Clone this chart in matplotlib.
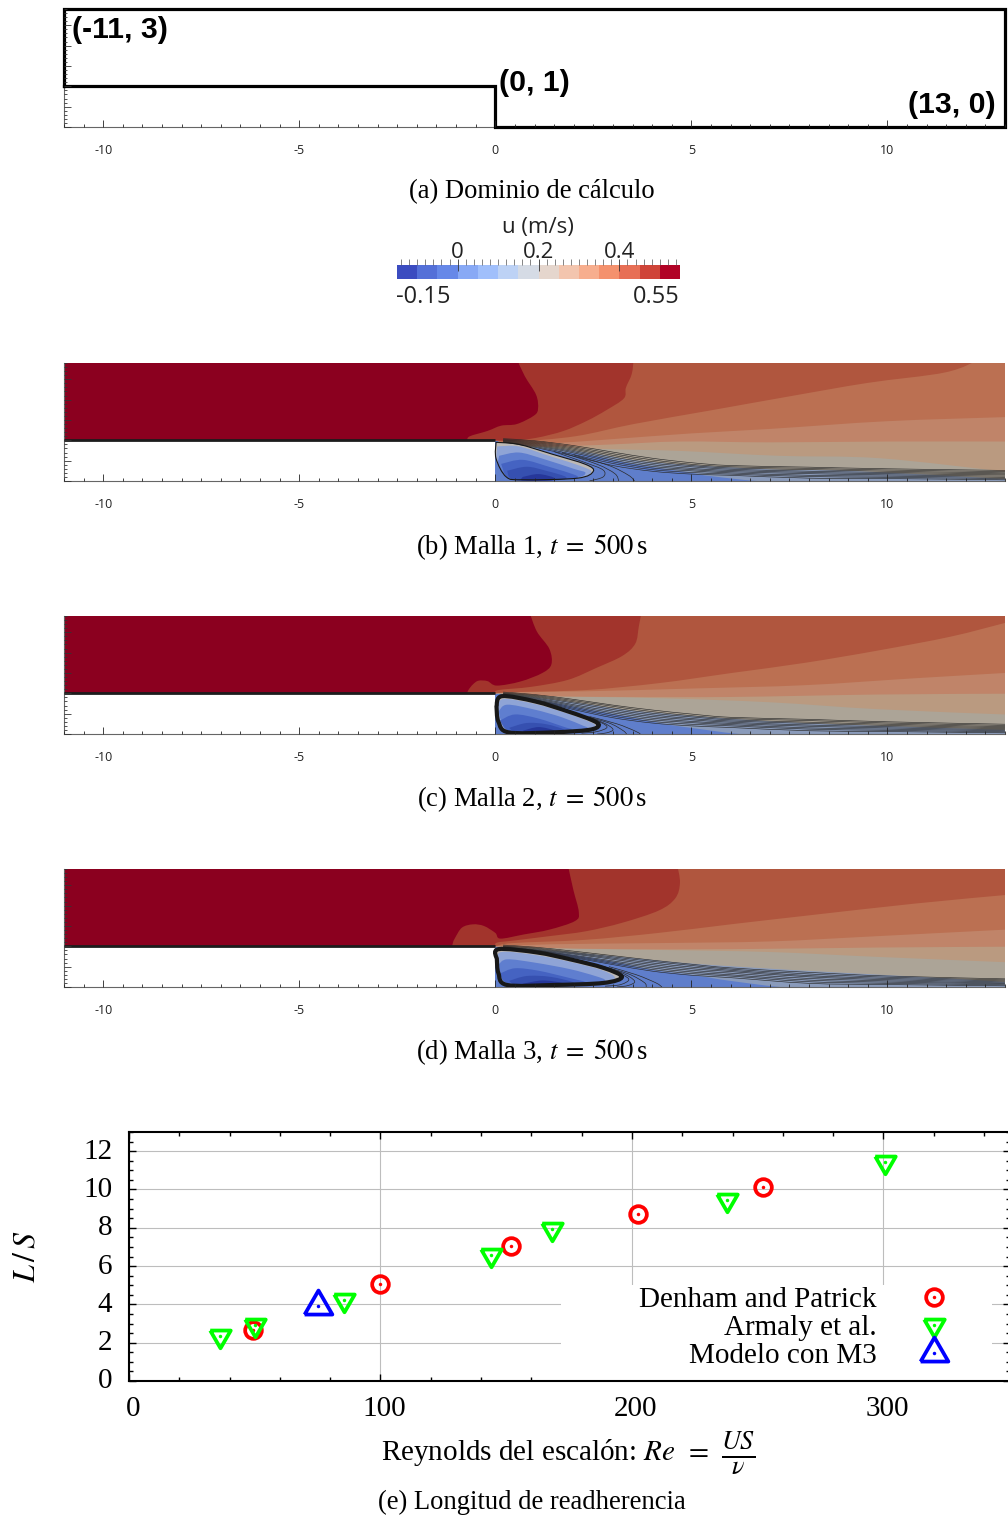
import matplotlib
matplotlib.use('Agg')
import matplotlib.pyplot as plt
from matplotlib.colors import ListedColormap
from matplotlib.legend_handler import HandlerTuple
from matplotlib.patches import PathPatch, Rectangle
from matplotlib.path import Path
from matplotlib.transforms import ScaledTranslation

plt.rcParams['mathtext.fontset'] = 'stix'
plt.rcParams['font.family'] = 'Liberation Serif'

W, H = 1008, 1517
Y_TOP = 2.9

# colour bar
cb_colors = ['#3b4cc0', '#5470d8', '#6688e8', '#88a9f5', '#a0bffb', '#bdd2f5', '#d5dbe5',
             '#e5d6cd', '#f3c5ae', '#f7ae8e', '#f4916d', '#e76f55', '#cf4438', '#b10326']
cb_edges = [-0.15, -0.1, -0.05, 0.0, 0.05, 0.1, 0.15, 0.2, 0.25, 0.3, 0.35, 0.4, 0.45, 0.5, 0.55]
cb_major = [0, 0.2, 0.4]
cb_major_labels = ['0', '0.2', '0.4']

# contour band colours, one per curve below, then the colour of the lowest zone
band_colors = ['#8b001f', '#a2342c', '#b0563e', '#bb7052', '#c08469', '#ba9a80', '#aca497', '#8a9bbb']
base_color = '#5f7ecb'
bubble_colors = ['#bdb9b5', '#8fa4d6', '#5f7ecf', '#4563c2', '#3650b0', '#26379a']

# contour line stations along x
line_x = [0.2, 1, 2, 3, 4, 5, 6, 8, 10, 13]

# Malla 1
b_curves = [
    ([0.55, 0.75, 1.04, 1.09, 0.99, 0.55, 0.15, -0.2, -0.65, -0.72], [3, 2.58, 2.12, 1.78, 1.61, 1.4, 1.36, 1.23, 1.1, 1]),
    ([3.53, 3.48, 3.33, 3.28, 2.83, 2.34, 1.74, 1.04, 0.45, 0], [3, 2.63, 2.29, 2.03, 1.74, 1.48, 1.23, 1.06, 1.0, 1]),
    ([12.38, 11.48, 9.49, 7.5, 5.52, 3.53, 2.04, 0.55, 0], [3, 2.67, 2.41, 2.08, 1.74, 1.4, 1.1, 0.97, 1]),
    ([13, 10, 7, 5, 3, 1.5, 0.5, 0], [1.57, 1.47, 1.28, 1.17, 1.03, 0.93, 0.9, 1]),
    ([13, 10, 7, 4.7, 3, 1.5, 0.5, 0], [0.97, 0.97, 0.95, 0.97, 0.9, 0.85, 0.88, 1]),
    ([13, 9.8, 7.2, 4.7, 3, 1.5, 0.5, 0], [0.23, 0.56, 0.62, 0.74, 0.78, 0.83, 0.88, 1]),
    ([13, 9.1, 7.2, 4.7, 3.5, 2.5, 1.5, 0.5, 0], [0.05, 0.25, 0.28, 0.41, 0.52, 0.68, 0.8, 0.88, 1]),
    ([13, 9.2, 7, 5.5, 5, 3.5, 2.6, 1.5, 0.5, 0], [-0.05, -0.05, -0.02, 0.12, 0.2, 0.42, 0.6, 0.75, 0.88, 1]),
]
b_lines = [
    [1.04, 0.99, 0.87, 0.71, 0.56, 0.45, 0.38, 0.34, 0.30, 0.26],
    [1.02, 0.97, 0.84, 0.67, 0.52, 0.41, 0.35, 0.31, 0.27, 0.23],
    [1.01, 0.95, 0.81, 0.63, 0.48, 0.38, 0.32, 0.28, 0.24, 0.20],
    [1.00, 0.93, 0.78, 0.59, 0.44, 0.35, 0.29, 0.24, 0.21, 0.175],
    [0.99, 0.91, 0.75, 0.55, 0.40, 0.31, 0.26, 0.21, 0.18, 0.15],
    [0.98, 0.89, 0.72, 0.51, 0.36, 0.28, 0.23, 0.18, 0.15, 0.12],
    [0.97, 0.87, 0.69, 0.47, 0.32, 0.25, 0.20, 0.14, 0.12, 0.09],
    [0.96, 0.85, 0.65, 0.43, 0.28, 0.21, 0.17, 0.11, 0.09, 0.06],
    [0.95, 0.83, 0.61, 0.38, 0.24, 0.17, 0.14, 0.07, 0.06, 0.03],
]
b_loops = [
    ([1.5, 2.3, 2.75, 2.75, 2.4], [0.72, 0.45, 0.27, 0.1, 0]),
    ([1.7, 2.6, 3.05, 3.15], [0.7, 0.41, 0.18, 0]),
    ([2.0, 2.9, 3.4, 3.55], [0.64, 0.38, 0.14, 0]),
]
b_bubble = [
    ([0.02, 0.6, 1.45, 2.3, 2.5, 2.1, 0.7, 0.28, 0.02], [0.95, 0.9, 0.66, 0.41, 0.24, 0.07, 0.03, 0.1, 0.55]),
    ([0.05, 0.6, 1.4, 2.2, 2.45, 2.1, 0.7, 0.28, 0.04], [0.85, 0.85, 0.61, 0.36, 0.22, 0.07, 0.03, 0.1, 0.5]),
    ([0.1, 0.6, 1.2, 2.0, 2.3, 2.0, 0.7, 0.3, 0.08], [0.62, 0.7, 0.55, 0.3, 0.2, 0.07, 0.03, 0.1, 0.4]),
    ([0.15, 0.7, 1.4, 2.0, 2.1, 1.9, 0.7, 0.3], [0.42, 0.52, 0.34, 0.16, 0.09, 0.05, 0.02, 0.1]),
    ([0.3, 0.8, 1.3, 1.8, 1.6, 0.5], [0.25, 0.35, 0.25, 0.1, 0.02, 0.02]),
    ([0.7, 1.1, 1.5, 1.4, 0.7], [0.1, 0.17, 0.08, 0.01, 0.01]),
]

# Malla 2
c_curves = [
    ([0.87, 1.06, 1.38, 1.43, 1.2, 0.64, 0.04, -0.2, -0.43, -0.57, -0.68, -0.72], [3, 2.52, 2.09, 1.71, 1.5, 1.29, 1.19, 1.3, 1.31, 1.22, 1.09, 1]),
    ([3.73, 3.66, 3.57, 3.24, 2.59, 1.85, 0.92, 0.08, 0], [3, 2.64, 2.22, 1.92, 1.63, 1.33, 1.16, 1.08, 1]),
    ([13, 11.6, 9.75, 7.9, 6.03, 4.17, 2.31, 0.45, 0], [2.73, 2.39, 2.05, 1.75, 1.5, 1.25, 1.08, 1.03, 1]),
    ([13, 10.7, 7.9, 5.1, 2.3, 0.45, 0], [1.5, 1.37, 1.2, 1.12, 1.05, 1.03, 1]),
    ([13, 9.75, 6, 3.2, 1.4, 0.45, 0], [0.99, 0.97, 0.91, 0.91, 0.93, 0.99, 1]),
    ([13, 9.75, 7, 4.2, 1.4, 0.45, 0], [0.48, 0.61, 0.78, 0.88, 0.93, 0.99, 1]),
    ([13, 7.9, 5.1, 3.2, 2.3, 1, 0], [0.1, 0.27, 0.44, 0.61, 0.74, 0.9, 1]),
    ([13, 8.5, 6.5, 5, 4.3, 3.4, 2.5, 1, 0], [-0.05, -0.05, -0.02, 0.15, 0.25, 0.42, 0.58, 0.85, 1]),
]
c_lines = [
    [1.03, 0.97, 0.85, 0.71, 0.59, 0.49, 0.41, 0.36, 0.30, 0.24],
    [1.01, 0.95, 0.82, 0.68, 0.55, 0.45, 0.38, 0.33, 0.27, 0.21],
    [1.00, 0.93, 0.79, 0.64, 0.51, 0.42, 0.35, 0.29, 0.24, 0.18],
    [0.99, 0.91, 0.76, 0.60, 0.47, 0.38, 0.32, 0.26, 0.21, 0.155],
    [0.98, 0.89, 0.72, 0.56, 0.43, 0.35, 0.29, 0.22, 0.18, 0.13],
    [0.97, 0.87, 0.69, 0.52, 0.39, 0.31, 0.26, 0.19, 0.15, 0.105],
    [0.96, 0.85, 0.66, 0.48, 0.35, 0.28, 0.23, 0.15, 0.12, 0.08],
    [0.95, 0.84, 0.63, 0.44, 0.31, 0.24, 0.20, 0.12, 0.09, 0.055],
    [0.94, 0.83, 0.60, 0.40, 0.27, 0.20, 0.16, 0.08, 0.06, 0.03],
]
c_loops = [
    ([1.8, 2.5, 2.85, 2.6, 2.2], [0.57, 0.36, 0.18, 0.06, 0.02]),
    ([2.0, 2.7, 3.0, 2.85, 2.6], [0.52, 0.3, 0.12, 0.03, 0]),
    ([2.2, 2.9, 3.25, 3.35], [0.46, 0.27, 0.09, 0]),
    ([2.4, 3.1, 3.55, 3.7], [0.43, 0.25, 0.08, 0]),
]
c_bubble = [
    ([0.03, 0.17, 1.02, 1.87, 2.47, 2.64, 2.38, 1.45, 0.34, 0.08], [0.68, 0.93, 0.8, 0.55, 0.34, 0.21, 0.1, 0.04, 0.04, 0.3]),
    ([0.05, 0.2, 1.0, 1.85, 2.4, 2.55, 2.3, 1.45, 0.34, 0.08], [0.6, 0.86, 0.74, 0.5, 0.3, 0.2, 0.1, 0.04, 0.04, 0.3]),
    ([0.08, 0.3, 1.0, 1.7, 2.25, 2.35, 2.2, 1.4, 0.34], [0.55, 0.72, 0.6, 0.41, 0.2, 0.16, 0.1, 0.04, 0.1]),
    ([0.12, 0.5, 1.1, 1.8, 1.95, 1.8, 1.0, 0.34], [0.33, 0.48, 0.38, 0.16, 0.12, 0.08, 0.04, 0.08]),
    ([0.35, 0.8, 1.3, 1.75, 1.6, 0.6], [0.15, 0.27, 0.24, 0.11, 0.05, 0.04]),
    ([0.7, 1.1, 1.5, 1.4, 0.8], [0.08, 0.17, 0.09, 0.04, 0.04]),
]

# Malla 3
d_curves = [
    ([1.85, 1.99, 2.13, 2.03, 1.38, 0.72, 0.13, 0, -0.29, -0.57, -0.85, -1.03, -1.08, -1.1], [3, 2.39, 1.84, 1.62, 1.41, 1.29, 1.19, 1.33, 1.5, 1.54, 1.46, 1.2, 1.09, 1]),
    ([4.64, 4.71, 4.59, 4.17, 3.24, 2.31, 1.38, 0.45, 0.04, 0], [3, 2.56, 2.18, 1.88, 1.58, 1.37, 1.25, 1.14, 1.09, 1]),
    ([13, 10.7, 7.9, 6, 4.17, 2.3, 0.45, 0], [2.26, 2.05, 1.75, 1.54, 1.33, 1.16, 1.08, 1]),
    ([13, 9.75, 7, 4.2, 1.4, 0], [1.41, 1.25, 1.12, 1.08, 1.05, 1]),
    ([13, 9.75, 6, 3.2, 1.4, 0], [0.99, 0.97, 0.93, 0.93, 0.96, 1]),
    ([13, 9.75, 7, 4.2, 1.4, 0], [0.61, 0.74, 0.86, 0.91, 0.95, 1]),
    ([13, 11.6, 7.9, 5.1, 3.2, 1.4, 0], [0.12, 0.21, 0.4, 0.57, 0.74, 0.9, 1]),
    ([13, 9, 7.5, 6, 5.2, 4, 3, 1.5, 0], [-0.05, -0.05, -0.02, 0.15, 0.27, 0.42, 0.62, 0.85, 1]),
]
d_lines = [
    [1.03, 0.98, 0.88, 0.77, 0.66, 0.56, 0.47, 0.36, 0.27, 0.20],
    [1.01, 0.96, 0.85, 0.74, 0.63, 0.53, 0.44, 0.32, 0.24, 0.175],
    [1.00, 0.94, 0.83, 0.71, 0.59, 0.49, 0.41, 0.28, 0.21, 0.15],
    [0.99, 0.92, 0.81, 0.68, 0.55, 0.45, 0.38, 0.25, 0.18, 0.125],
    [0.98, 0.91, 0.78, 0.64, 0.51, 0.41, 0.34, 0.21, 0.15, 0.10],
    [0.97, 0.90, 0.76, 0.61, 0.47, 0.37, 0.30, 0.17, 0.12, 0.08],
    [0.96, 0.89, 0.74, 0.58, 0.43, 0.33, 0.27, 0.13, 0.09, 0.055],
    [0.95, 0.88, 0.72, 0.55, 0.39, 0.29, 0.23, 0.09, 0.06, 0.03],
]
d_loops = [
    ([2.3, 3.0, 3.4, 3.2, 2.8], [0.62, 0.4, 0.2, 0.06, 0.02]),
    ([2.5, 3.2, 3.55, 3.4, 3.1], [0.57, 0.36, 0.15, 0.04, 0]),
    ([2.7, 3.4, 3.8, 3.85], [0.52, 0.32, 0.11, 0]),
    ([2.9, 3.6, 4.1, 4.25], [0.5, 0.3, 0.1, 0]),
]
d_bubble = [
    ([0.04, 0.08, 1.06, 1.91, 2.76, 3.23, 2.76, 1.49, 0.3, 0.08], [0.68, 0.93, 0.85, 0.68, 0.47, 0.25, 0.1, 0.05, 0.05, 0.34]),
    ([0.05, 0.15, 1.0, 1.9, 2.7, 3.05, 2.7, 1.49, 0.3, 0.08], [0.62, 0.86, 0.79, 0.62, 0.42, 0.23, 0.1, 0.05, 0.05, 0.34]),
    ([0.08, 0.3, 1.0, 1.9, 2.55, 2.8, 2.6, 1.4, 0.3], [0.55, 0.68, 0.6, 0.44, 0.27, 0.17, 0.1, 0.05, 0.1]),
    ([0.12, 0.5, 1.1, 1.9, 2.3, 2.1, 1.1, 0.3], [0.33, 0.46, 0.4, 0.22, 0.12, 0.08, 0.05, 0.1]),
    ([0.35, 0.8, 1.4, 2.0, 1.7, 0.6], [0.15, 0.27, 0.25, 0.11, 0.06, 0.05]),
    ([0.7, 1.2, 1.7, 1.5, 0.8], [0.08, 0.16, 0.1, 0.05, 0.05]),
]

# longitud de readherencia
denham_re = [49.3, 100, 152, 202.4, 252]
denham_ls = [2.64, 5.04, 7.03, 8.7, 10.15]
armaly_re = [36.2, 50.1, 85.5, 144, 168.2, 237.8, 300.6]
armaly_ls = [2.33, 2.9, 4.24, 6.6, 7.95, 9.46, 11.42]
modelo_re = [75.2]
modelo_ls = [3.94]


def px_axes(fig, left, top, width, height):
    return fig.add_axes([left / W, 1 - (top + height) / H, width / W, height / H])


def px_text(fig, x, y, s, **kw):
    kw.setdefault('ha', 'center')
    kw.setdefault('va', 'center')
    fig.text(x / W, 1 - (y + 2) / H, s, **kw)


def curve_verts(xs, ys):
    # Bezier segments through the read points
    pts = list(zip(xs, ys))
    verts = [pts[0]]
    for i in range(len(pts) - 1):
        p0 = pts[max(i - 1, 0)]
        p1 = pts[i]
        p2 = pts[i + 1]
        p3 = pts[min(i + 2, len(pts) - 1)]
        verts.append((p1[0] + (p2[0] - p0[0]) / 6, p1[1] + (p2[1] - p0[1]) / 6))
        verts.append((p2[0] - (p3[0] - p1[0]) / 6, p2[1] - (p3[1] - p1[1]) / 6))
        verts.append(p2)
    return verts


def curve_path(xs, ys, corners=(), closed=False):
    verts = curve_verts(xs, ys)
    codes = [Path.MOVETO] + [Path.CURVE4] * (len(verts) - 1)
    for c in corners:
        verts.append(c)
        codes.append(Path.LINETO)
    if closed:
        verts.append(verts[0])
        codes.append(Path.CLOSEPOLY)
    return Path(verts, codes)


def closed_curve(xs, ys):
    return curve_path(list(xs) + [xs[0]], list(ys) + [ys[0]], closed=True)


def setup_panel(ax):
    ax.set_xlim(-11, 13)
    ax.set_ylim(0, Y_TOP)
    for name in ['top', 'right']:
        ax.spines[name].set_visible(False)
    for name in ['left', 'bottom']:
        ax.spines[name].set_color('#666666')
        ax.spines[name].set_linewidth(0.8)
    ax.patch.set_alpha(0)
    ax.set_xticks([-10, -5, 0, 5, 10])
    ax.set_xticklabels(['-10', '-5', '0', '5', '10'], family='Open Sans', fontsize=9, color='#222222')
    ax.set_xticks([-11 + 0.5 * i for i in range(49)], minor=True)
    ax.set_yticks([0.5 * i for i in range(6)])
    ax.set_yticklabels([])
    ax.set_yticks([0.1 * i for i in range(30)], minor=True)
    ax.tick_params(axis='x', which='major', direction='in', length=5, width=0.6, pad=12, color='#222222')
    ax.tick_params(axis='x', which='minor', direction='in', length=2.5, width=0.6, color='#222222')
    ax.tick_params(axis='y', which='major', direction='in', length=5, width=0.6, color='#333333')
    ax.tick_params(axis='y', which='minor', direction='in', length=2.5, width=0.6, color='#333333')
    ax.xaxis.set_zorder(10)
    ax.yaxis.set_zorder(10)


def draw_panel(fig, top, curves, lines, loops, bubble, ring_width):
    ax = px_axes(fig, 64, top, 941, 118)
    domain = [(-11, 1), (0, 1), (0, 0), (13, 0), (13, 3), (-11, 3)]
    ax.fill([p[0] for p in domain], [p[1] for p in domain], color=base_color, lw=0, zorder=1)
    for i in range(len(curves) - 1, -1, -1):
        xs, ys = curves[i]
        corners = [(-11, 1), (-11, 3)]
        if xs[0] >= 13:
            corners.append((13, 3))
        ax.add_patch(PathPatch(curve_path(xs, ys, corners, closed=True), fc=band_colors[i], ec='none', zorder=2))
    for i in range(len(bubble)):
        xs, ys = bubble[i]
        ax.add_patch(PathPatch(closed_curve(xs, ys), fc=bubble_colors[i], ec='none', zorder=3))
    for row in lines:
        ax.add_patch(PathPatch(curve_path(line_x, row), fc='none', ec='#2a2a2a', lw=0.45, zorder=4))
    for xs, ys in loops:
        ax.add_patch(PathPatch(curve_path(xs, ys), fc='none', ec='#2a2a2a', lw=0.5, zorder=4))
    xs, ys = bubble[0]
    ax.add_patch(PathPatch(closed_curve(xs, ys), fc='none', ec='#181818', lw=ring_width, zorder=5))
    ax.plot([-11, 0], [1, 1], color='#1c1c1c', lw=2.0, solid_capstyle='butt', zorder=6)
    setup_panel(ax)
    return ax


fig = plt.figure(figsize=(W / 100, H / 100), dpi=100)

# (a) dominio
ax_a = px_axes(fig, 64, 9, 941, 118)
setup_panel(ax_a)
ax_a.plot([-11, 0, 0, 13, 13, -11, -11], [1, 1, 0, 0, Y_TOP, Y_TOP, 1], color='black', lw=2.3,
          solid_joinstyle='miter', clip_on=False, zorder=5)
px_text(fig, 72, 28, '(-11, 3)', family='Liberation Sans', weight='bold', fontsize=21.7, ha='left')
px_text(fig, 499, 81, '(0, 1)', family='Liberation Sans', weight='bold', fontsize=21.7, ha='left')
px_text(fig, 996, 103, '(13, 0)', family='Liberation Sans', weight='bold', fontsize=21.7, ha='right')
px_text(fig, 532, 190, '(a) Dominio de cálculo', fontsize=19.2)

# barra de color
ax_cb = px_axes(fig, 397, 265, 283, 14)
ax_cb.pcolormesh(cb_edges, [0, 1], [list(range(len(cb_colors)))], cmap=ListedColormap(cb_colors))
ax_cb.set_xlim(cb_edges[0], cb_edges[-1])
ax_cb.set_yticks([])
for spine in ax_cb.spines.values():
    spine.set_visible(False)
ax_cb.xaxis.tick_top()
ax_cb.set_xticks(cb_major)
ax_cb.set_xticklabels(cb_major_labels, family='Open Sans', fontsize=16, color='#222222')
ax_cb.set_xticks([-0.14 + 0.02 * i for i in range(35)], minor=True)
ax_cb.tick_params(axis='x', which='major', direction='inout', length=9, width=0.6, pad=-3, color='#333333')
ax_cb.tick_params(axis='x', which='minor', direction='out', length=4.5, width=0.5, color='#555555')
px_text(fig, 538, 225, 'u (m/s)', family='Open Sans', fontsize=16, color='#222222')
px_text(fig, 396, 295, '-0.15', family='Open Sans', fontsize=17, ha='left', color='#222222')
px_text(fig, 680, 295, '0.55', family='Open Sans', fontsize=17, ha='right', color='#222222')

# (b), (c), (d)
draw_panel(fig, 363, b_curves, b_lines, b_loops, b_bubble, 0.8)
px_text(fig, 532, 545, r'(b) Malla 1, $t\;=\;500\,$s', fontsize=19.2)
draw_panel(fig, 616, c_curves, c_lines, c_loops, c_bubble, 3.0)
px_text(fig, 532, 797, r'(c) Malla 2, $t\;=\;500\,$s', fontsize=19.2)
draw_panel(fig, 869, d_curves, d_lines, d_loops, d_bubble, 3.0)
px_text(fig, 532, 1050, r'(d) Malla 3, $t\;=\;500\,$s', fontsize=19.2)

# (e) longitud de readherencia
ax_e = px_axes(fig, 129, 1132, 881, 249)
ax_e.set_xlim(0, 350.3)
ax_e.set_ylim(0, 13)
ax_e.set_xticks([0, 100, 200, 300])
ax_e.set_xticks(list(range(0, 351, 20)), minor=True)
ax_e.set_yticks(list(range(0, 13, 2)))
ax_e.set_yticks([0.5 * i for i in range(27)], minor=True)
ax_e.grid(True, which='major', color='#bdbdbd', lw=0.8, zorder=1)
ax_e.set_axisbelow(True)
ax_e.add_patch(Rectangle((171.8, 0.05), 171.2, 4.98, fc='white', ec='none', zorder=1.5))
ax_e.tick_params(axis='both', which='major', direction='in', length=5, width=1, top=True, right=True, labelsize=21)
ax_e.tick_params(axis='both', which='minor', direction='in', length=3, width=1, top=True, right=True)
ax_e.tick_params(axis='x', which='major', pad=11)
ax_e.tick_params(axis='y', which='major', pad=12)
for spine in ax_e.spines.values():
    spine.set_linewidth(1.5)
for label in ax_e.get_xticklabels():
    label.set_transform(label.get_transform() + ScaledTranslation(4 / 100, 0, fig.dpi_scale_trans))
for label in ax_e.get_yticklabels():
    label.set_transform(label.get_transform() + ScaledTranslation(0, 2.5 / 100, fig.dpi_scale_trans))

triangle_down = [(-1, 0.58), (1, 0.58), (0, -1.15), (-1, 0.58)]
triangle_up = [(-1, -0.58), (1, -0.58), (0, 1.15), (-1, -0.58)]


def plot_series(ax, re, ls, color, marker, size):
    mark, = ax.plot(re, ls, linestyle='None', marker=marker, ms=size, mfc='none', mec=color, mew=2.7,
                    clip_on=False, zorder=4)
    dot, = ax.plot(re, ls, linestyle='None', marker='o', ms=2.5, color=color, mec='none', zorder=4)
    return mark, dot


h_denham = plot_series(ax_e, denham_re, denham_ls, '#ff0000', 'o', 12)
h_armaly = plot_series(ax_e, armaly_re, armaly_ls, '#00ff00', triangle_down, 17)
h_modelo = plot_series(ax_e, modelo_re, modelo_ls, '#0000ff', triangle_up, 23)
ax_e.legend([h_denham, h_armaly, h_modelo], ['Denham and Patrick', 'Armaly et al.', 'Modelo con M3'],
            handler_map={tuple: HandlerTuple(ndivide=1, pad=0)},
            loc='lower right', bbox_to_anchor=(332.7 / 350.3, 0.036), markerfirst=False, frameon=False,
            fontsize=21, labelspacing=0.055, handletextpad=0.95, handlelength=2.0, borderpad=0.1, borderaxespad=0)

px_text(fig, 27, 1255, r'$L\,/\,S$', fontsize=23, rotation=90)
px_text(fig, 381, 1451, r'Reynolds del escalón: $Re\;\,=$', fontsize=21, ha='left')
px_text(fig, 721, 1451, r'$\frac{US}{\nu}$', fontsize=27, ha='left')
px_text(fig, 532, 1500, '(e) Longitud de readherencia', fontsize=19.2)

fig.savefig('out.png', dpi=100)
